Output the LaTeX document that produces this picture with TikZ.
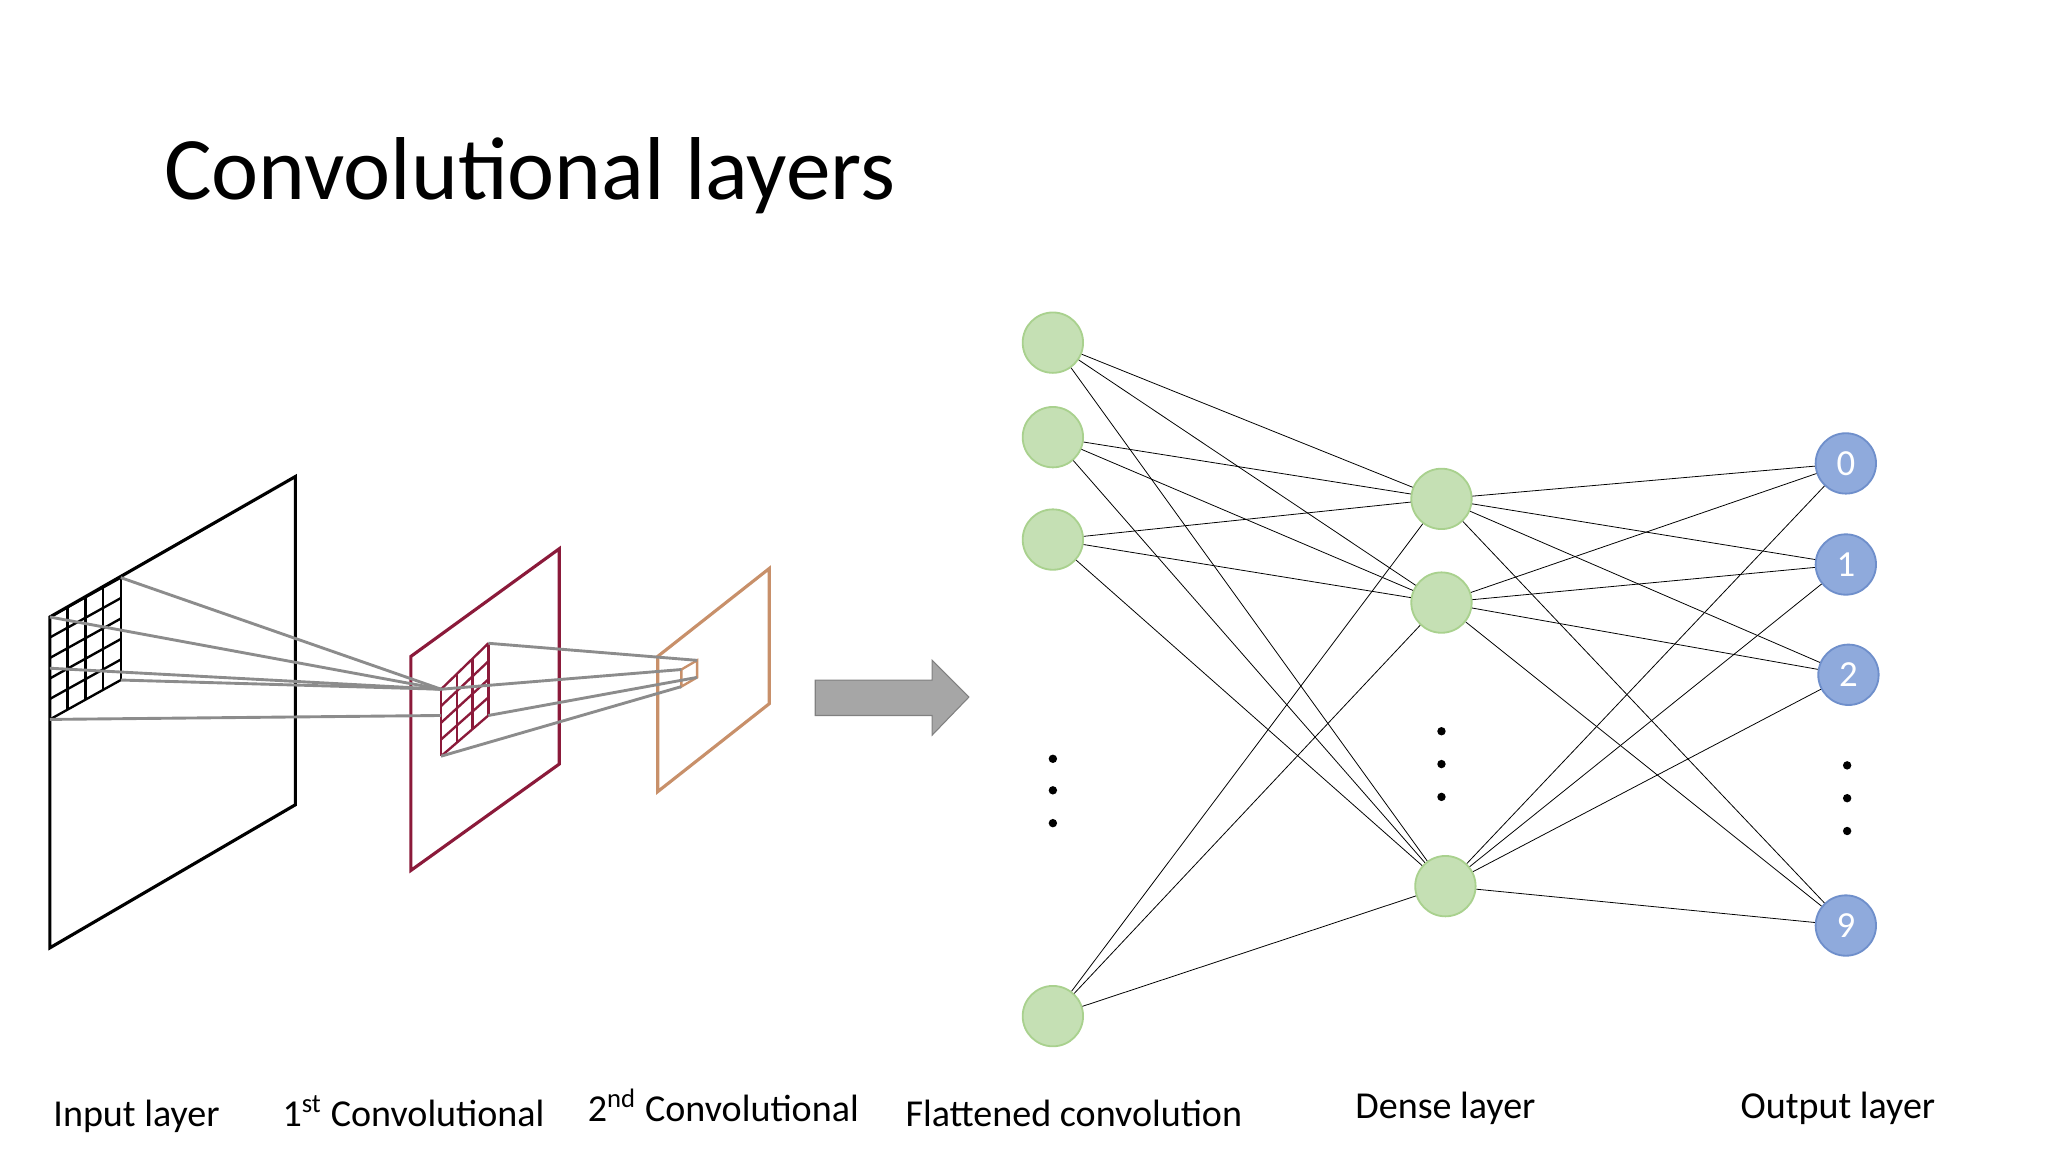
\documentclass[tikz,border=0pt]{standalone}
\usepackage{fontspec}
\setmainfont{Carlito}
\definecolor{gf}{HTML}{C5E0B4}\definecolor{gd}{HTML}{A9D18E}
\definecolor{bf}{HTML}{8FAADC}\definecolor{bd}{HTML}{6F8FCB}
\definecolor{dr}{HTML}{8B1A3A}\definecolor{tan}{HTML}{C8906A}
\begin{document}
\begin{tikzpicture}[x=0.5pt,y=-0.5pt,
 gn/.style={circle,minimum size=23pt,inner sep=0,fill=gf,draw=gd,line width=0.7pt},
 bn/.style={circle,minimum size=23pt,inner sep=0,fill=bf,draw=bd,line width=0.7pt,text=white,font=\fontsize{14}{14}\selectfont},
 ed/.style={black,line width=0.3pt},
 gl/.style={gray!90,line width=1.1pt},
 lab/.style={font=\fontsize{14.5}{16}\selectfont,anchor=base},
 dot/.style={circle,fill=black,inner sep=0,minimum size=3.2pt}]
\useasboundingbox (0,0) rectangle (1560,877);
\node[anchor=base west,font=\fontsize{34}{40}\selectfont] (title) at (118,152) {Convolutional layers};
% input plane
\draw[line width=1.2pt] (38,470) -- (225,363) -- (225,613) -- (38,722) -- cycle;
\foreach \i in {0,...,4}{\draw[line width=0.9pt] (38+13.5*\i,470-7.5*\i) -- (38+13.5*\i,548-7.5*\i);}
\foreach \j in {0,...,5}{\draw[line width=0.9pt] (38,470+15.6*\j) -- (92,440+15.6*\j);}
% conv1
\draw[dr,line width=1.2pt] (313,500) -- (426,418) -- (426,582) -- (313,663) -- cycle;
\foreach \i in {0,...,3}{\draw[dr,line width=0.9pt] (336+12*\i,525-11.67*\i) -- (336+12*\i,576-10.33*\i);}
\foreach \j in {0,...,4}{\draw[dr,line width=0.9pt] (336,525+12.75*\j) -- (372,490+13.75*\j);}
\draw[gl] (92,440) -- (336,525);
\draw[gl] (38,470) -- (336,525);
\draw[gl] (38,548) -- (336,545);
\draw[gl] (92,518) -- (336,525);
\draw[gl] (38,509) -- (336,525);
% conv2
\draw[tan,line width=1.2pt] (501,500) -- (586,433) -- (586,536) -- (501,603) -- cycle;
\draw[tan,line width=0.9pt] (519,510) -- (531,503) -- (531,516) -- (519,523) -- cycle;
\draw[gl] (372,490) -- (531,503);
\draw[gl] (336,525) -- (519,510);
\draw[gl] (336,576) -- (519,523);
\draw[gl] (372,545) -- (531,516);
% arrow
\fill[gray!70,draw=gray] (621,518) -- (710,518) -- (710,503) -- (738,531) -- (710,560) -- (710,545) -- (621,545) -- cycle;
% network
\node[gn] (i1) at (802,261) {};
\node[gn] (i2) at (802,333) {};
\node[gn] (i3) at (802,411) {};
\node[gn] (i4) at (802,774) {};
\node[gn] (d1) at (1098,380) {};
\node[gn] (d2) at (1098,459) {};
\node[gn] (d3) at (1101,675) {};
\node[bn] (o0) at (1406,353) {0};
\node[bn] (o1) at (1406,430) {1};
\node[bn] (o2) at (1408,514) {2};
\node[bn] (o9) at (1406,705) {9};
\foreach \y in {578,602,627}{\node[dot] at (802,\y) {};}
\foreach \y in {557,582,607}{\node[dot] at (1098,\y) {};}
\foreach \y in {583,608,633}{\node[dot] at (1407,\y) {};}
\foreach \a in {i1,i2,i3,i4}{\foreach \b in {d1,d2,d3}{\draw[ed] (\a) -- (\b);}}
\foreach \a in {d1,d2,d3}{\foreach \b in {o0,o1,o2,o9}{\draw[ed] (\a) -- (\b);}}
% labels
\node[lab] (l1) at (104,858) {Input layer};
\node[lab] (l2) at (315,858) {1\textsuperscript{st} Convolutional};
\node[lab] (l3) at (551,854) {2\textsuperscript{nd} Convolutional};
\node[lab] (l4) at (818,858) {Flattened convolution};
\node[lab] (l5) at (1101,852) {Dense layer};
\node[lab] (l6) at (1400,852) {Output layer};
\end{tikzpicture}
\end{document}
